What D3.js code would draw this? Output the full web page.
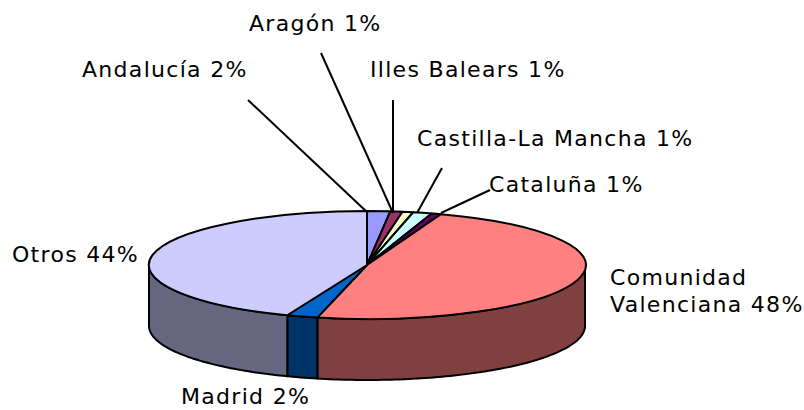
<!DOCTYPE html>
<meta charset="utf-8">
<style>
  body { margin: 0; background: #fff; }
  text { font-family: "DejaVu Sans", Verdana, sans-serif; font-size: 22px; letter-spacing: 1.3px; fill: #000; }
  .top path, .side path { stroke: #000; stroke-width: 2px; stroke-linejoin: round; }
  .leaders line { stroke: #000; stroke-width: 2px; }
</style>
<svg width="804" height="410"></svg>
<script src="https://cdn.jsdelivr.net/npm/d3@7"></script>
<script>
const regions = ["Andalucía", "Aragón", "Illes Balears", "Castilla-La Mancha", "Cataluña", "Comunidad Valenciana", "Madrid", "Otros"];
const shares = [1.7, 0.9, 0.8, 1.4, 0.7, 48.1, 2.3, 44.0];
const percentLabels = ["2%", "1%", "1%", "1%", "1%", "48%", "2%", "44%"];
const topColors = ["#9999ff", "#993366", "#ffffcc", "#ccffff", "#660066", "#ff8080", "#0066cc", "#ccccff"];
const sideColors = ["#4d4d80", "#4d1a33", "#808066", "#668080", "#330033", "#804040", "#003366", "#666680"];

// label placement, split lines where the original wraps
const labelLines = [
  ["Andalucía 2%"], ["Aragón 1%"], ["Illes Balears 1%"], ["Castilla-La Mancha 1%"],
  ["Cataluña 1%"], ["Comunidad", "Valenciana 48%"], ["Madrid 2%"], ["Otros 44%"]
];
const labelX = [82, 249, 370, 417, 489, 610, 181, 12];
const labelY = [77, 31, 77, 146, 192, 285, 404, 262];
const leaders = [
  [248, 100, 368, 213],
  [321, 53, 393, 213],
  [393, 100, 393, 213],
  [442, 168, 417, 213],
  [490, 190, 441, 213]
];

const svg = d3.select("svg");
const cx = 367, cy = 265, rx = 218, ry = 54, depth = 61;

const x = d3.scaleLinear().domain([-1, 1]).range([cx - rx, cx + rx]);
const y = d3.scaleLinear().domain([-1, 1]).range([cy - ry, cy + ry]);

const slices = d3.pie().sort(null).value(d => d)(shares);

// angle is clockwise from 12 o'clock, like d3.pie
const px = a => x(Math.sin(a));
const py = a => y(-Math.cos(a));

// only the front half of the rim is visible
const visibleWall = s => {
  const a0 = Math.max(s.startAngle, Math.PI / 2);
  const a1 = Math.min(s.endAngle, Math.PI * 1.5);
  return a1 > a0 ? [a0, a1] : null;
};

svg.append("g").attr("class", "side")
  .selectAll("path")
  .data(slices.filter(visibleWall))
  .enter().append("path")
  .attr("fill", d => sideColors[d.index])
  .attr("d", d => {
    const [a0, a1] = visibleWall(d);
    const steps = d3.range(a0, a1, 0.02).concat(a1);
    const upper = steps.map(a => [px(a), py(a)]);
    const lower = steps.slice().reverse().map(a => [px(a), py(a) + depth]);
    return d3.line()(upper.concat(lower)) + "Z";
  });

const arc = d3.arc().innerRadius(0).outerRadius(1);
svg.append("g").attr("class", "top")
  .selectAll("path")
  .data(slices)
  .enter().append("path")
  .attr("fill", d => topColors[d.index])
  .attr("vector-effect", "non-scaling-stroke")
  .attr("transform", `translate(${cx},${cy}) scale(${rx},${ry})`)
  .attr("d", arc);

svg.append("g").attr("class", "leaders")
  .selectAll("line")
  .data(leaders)
  .enter().append("line")
  .attr("x1", d => d[0])
  .attr("y1", d => d[1])
  .attr("x2", d => d[2])
  .attr("y2", d => d[3]);

const labels = svg.append("g")
  .selectAll("text")
  .data(regions)
  .enter().append("text")
  .attr("x", (d, i) => labelX[i])
  .attr("y", (d, i) => labelY[i]);

labels.selectAll("tspan")
  .data((d, i) => labelLines[i].map(t => ({ t, x: labelX[i] })))
  .enter().append("tspan")
  .attr("x", d => d.x)
  .attr("dy", (d, i) => i ? 27 : 0)
  .text(d => d.t);
</script>
